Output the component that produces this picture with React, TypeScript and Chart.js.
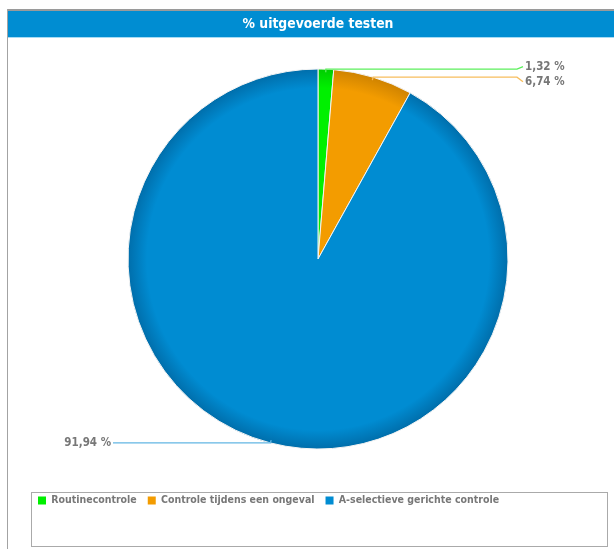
import React, { useEffect, useRef } from "react";
import { Chart, registerables } from "chart.js";

Chart.register(...registerables);

const categories = [
  "Routinecontrole",
  "Controle tijdens een ongeval",
  "A-selectieve gerichte controle",
];
const percentages = [1.32, 6.74, 91.94];
const titleText = "% uitgevoerde testen";

const baseColors = ["#00f000", "#f39c00", "#008cd2"];
const edgeColors = ["#00cc00", "#cf8300", "#006eab"];
const leaderColors = ["#5cf05c", "#f7be5e", "#63b6e4"];

const FONT = "'DejaVu Sans Condensed', 'DejaVu Sans', sans-serif";
const CANVAS_W = 636;
const CANVAS_H = 549;
const PIE_RADIUS = 190;

const fmt = (v: number) => v.toFixed(2).replace(".", ",") + " %";

const framePlugin = {
  id: "frame",
  beforeDraw(chart: any) {
    const { ctx, width, height } = chart;
    ctx.save();
    ctx.fillStyle = "#ffffff";
    ctx.fillRect(0, 0, width, height);
    ctx.fillStyle = "#9a9a9a";
    ctx.fillRect(7, 9, width - 7, 2);
    ctx.fillStyle = "#a3a3a3";
    ctx.fillRect(7, 9, 1, height - 9);
    ctx.fillStyle = "#008dd2";
    ctx.fillRect(8, 11, width - 8, 26);
    ctx.fillStyle = "#a6dbf4";
    ctx.fillRect(8, 37, width - 8, 1);
    ctx.strokeStyle = "#aaaaaa";
    ctx.lineWidth = 1;
    ctx.strokeRect(31.5, 492.5, 576, 54);
    ctx.restore();
  },
};

const leaderPlugin = {
  id: "leaders",
  afterDatasetsDraw(chart: any) {
    const meta = chart.getDatasetMeta(0);
    const ctx = chart.ctx;
    const items = meta.data.map((arc: any, i: number) => {
      const p = arc.getProps(["x", "y", "startAngle", "endAngle", "outerRadius"], true);
      const mid = (p.startAngle + p.endAngle) / 2;
      const cos = Math.cos(mid);
      const sin = Math.sin(mid);
      return {
        i,
        x: p.x,
        y: p.y,
        r: p.outerRadius,
        cos,
        sin,
        right: cos >= 0,
        ax: p.x + cos * p.outerRadius,
        ay: p.y + sin * p.outerRadius,
        ly: 0,
      };
    });
    for (const side of [true, false]) {
      const group = items.filter((it: any) => it.right === side).sort((a: any, b: any) => a.ay - b.ay);
      if (!group.length) continue;
      const ys = group.map((g: any) => g.ay);
      for (let k = 1; k < ys.length; k++) if (ys[k] < ys[k - 1] + 15) ys[k] = ys[k - 1] + 15;
      const meanA = group.reduce((s: number, g: any) => s + g.ay, 0) / group.length;
      const meanY = ys.reduce((s: number, v: number) => s + v, 0) / ys.length;
      group.forEach((g: any, k: number) => (g.ly = ys[k] + (meanA - meanY) + 1));
    }
    ctx.save();
    ctx.font = `bold 11.5px ${FONT}`;
    ctx.textBaseline = "middle";
    items.forEach((it: any) => {
      const dir = it.right ? 1 : -1;
      ctx.strokeStyle = leaderColors[it.i];
      ctx.lineWidth = 1.3;
      ctx.beginPath();
      ctx.moveTo(it.x + it.cos * (it.r - 3), it.y + it.sin * (it.r - 3));
      ctx.lineTo(it.ax, it.ay);
      ctx.lineTo(it.x + dir * (it.r + 9), it.ay);
      ctx.lineTo(it.x + dir * (it.r + 15), it.right ? it.ly : it.ay);
      ctx.stroke();
      ctx.fillStyle = "#777777";
      ctx.textAlign = it.right ? "left" : "right";
      ctx.fillText(fmt(percentages[it.i]), it.x + dir * (it.r + 17), it.right ? it.ly : it.ay);
    });
    ctx.restore();
  },
};

function sliceFill(context: any) {
  const i = context.dataIndex;
  const chart = context.chart;
  const area = chart.chartArea;
  if (!area) return baseColors[i];
  const cx = (area.left + area.right) / 2;
  const cy = (area.top + area.bottom) / 2;
  const g = chart.ctx.createRadialGradient(cx, cy, 0, cx, cy, PIE_RADIUS);
  g.addColorStop(0, baseColors[i]);
  g.addColorStop(0.9, baseColors[i]);
  g.addColorStop(1, edgeColors[i]);
  return g;
}

export default function App() {
  const ref = useRef<HTMLCanvasElement | null>(null);
  useEffect(() => {
    if (!ref.current) return;
    const chart = new Chart(ref.current, {
      type: "pie",
      data: {
        labels: categories,
        datasets: [
          {
            data: percentages,
            backgroundColor: sliceFill as any,
            borderColor: "#f4f4f4",
            borderWidth: 1,
          },
        ],
      },
      options: {
        responsive: false,
        animation: false,
        events: [],
        radius: PIE_RADIUS,
        layout: { padding: { left: 27, right: 27, top: 11, bottom: 33.25 } },
        plugins: {
          tooltip: { enabled: false },
          title: {
            display: true,
            text: titleText,
            color: "#ffffff",
            font: { family: FONT, size: 13.8, weight: "bold" },
            padding: { top: 4.9, bottom: 1.3 },
          },
          legend: {
            display: true,
            position: "bottom",
            align: "start",
            labels: {
              boxWidth: 8,
              boxHeight: 8,
              padding: 11,
              color: "#777777",
              font: { family: FONT, size: 10.5, weight: "bold" },
              generateLabels: () =>
                categories.map((c, i) => ({
                  text: c,
                  fillStyle: baseColors[i],
                  strokeStyle: baseColors[i],
                  lineWidth: 0,
                  hidden: false,
                  index: i,
                  fontColor: "#777777",
                })),
            },
          },
        },
      } as any,
      plugins: [framePlugin, leaderPlugin],
    });
    return () => chart.destroy();
  }, []);
  return (
    <div style={{ position: "absolute", left: 0, top: 0, width: 614, height: 549, overflow: "hidden" }}>
      <canvas ref={ref} width={CANVAS_W} height={CANVAS_H} style={{ display: "block", width: CANVAS_W, height: CANVAS_H }} />
    </div>
  );
}
